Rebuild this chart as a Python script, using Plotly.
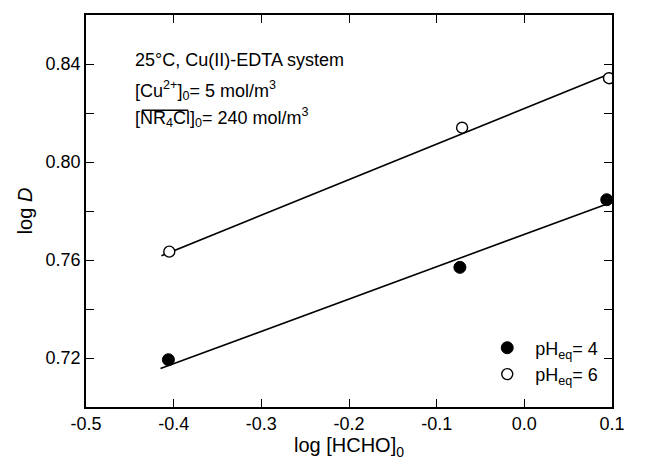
import plotly.graph_objects as go

# Data
log_hcho_ph4 = [-0.406, -0.0735, 0.094]
log_d_ph4 = [0.7193, 0.757, 0.7846]
log_hcho_ph6 = [-0.405, -0.071, 0.0966]
log_d_ph6 = [0.7634, 0.814, 0.8342]

# Fitted lines (endpoints)
fit_ph4_x = [-0.415, 0.092]
fit_ph4_y = [0.7157, 0.7826]
fit_ph6_x = [-0.414, 0.092]
fit_ph6_y = [0.7617, 0.8352]

x_ticks = [-0.5, -0.4, -0.3, -0.2, -0.1, 0.0, 0.1]
x_tick_labels = ["-0.5", "-0.4", "-0.3", "-0.2", "-0.1", "0.0", "0.1"]
y_ticks = [0.72, 0.76, 0.80, 0.84]
y_tick_labels = ["0.72", "0.76", "0.80", "0.84"]

FONT = "Liberation Sans, Arial, sans-serif"

fig = go.Figure()
fig.add_trace(go.Scatter(x=fit_ph4_x, y=fit_ph4_y, mode="lines",
                         line=dict(color="black", width=1.6), showlegend=False, hoverinfo="skip"))
fig.add_trace(go.Scatter(x=fit_ph6_x, y=fit_ph6_y, mode="lines",
                         line=dict(color="black", width=1.6), showlegend=False, hoverinfo="skip"))
fig.add_trace(go.Scatter(x=log_hcho_ph4, y=log_d_ph4, mode="markers",
                         marker=dict(symbol="circle", size=12, color="black",
                                     line=dict(color="black", width=1)),
                         name="pH<sub>eq</sub>= 4"))
fig.add_trace(go.Scatter(x=log_hcho_ph6, y=log_d_ph6, mode="markers",
                         marker=dict(symbol="circle", size=11, color="white",
                                     line=dict(color="black", width=1.4)),
                         name="pH<sub>eq</sub>= 6"))

axis_common = dict(showgrid=False, zeroline=False, showline=True, linecolor="black",
                   linewidth=1.5, mirror="ticks", ticks="inside", ticklen=8,
                   tickwidth=1.3, tickcolor="black",
                   tickfont=dict(family=FONT, size=18, color="black"))

fig.update_xaxes(range=[-0.5, 0.1], tickvals=x_ticks, ticktext=x_tick_labels,
                 title=dict(text="log [HCHO]<sub>0</sub>", font=dict(family=FONT, size=20, color="black"),
                            standoff=0),
                 **axis_common)
fig.update_yaxes(range=[0.70, 0.86], tickvals=y_ticks, ticktext=y_tick_labels,
                 minor=dict(tickvals=[0.74, 0.78, 0.82], ticks="inside", ticklen=8,
                            tickwidth=1.3, tickcolor="black"),
                 title=dict(text="log <i>D</i>", font=dict(family=FONT, size=20, color="black"),
                            standoff=8),
                 **axis_common)

ann_font = dict(family=FONT, size=18, color="black")
fig.add_annotation(xref="paper", yref="paper", x=0.0894, y=0.885, xanchor="left", yanchor="middle",
                   text="25°C, Cu(II)-EDTA system", showarrow=False, font=ann_font)
fig.add_annotation(xref="paper", yref="paper", x=0.0894, y=0.808, xanchor="left", yanchor="middle",
                   text="[Cu<sup>2+</sup>]<sub>0</sub>= 5 mol/m<sup>3</sup>", showarrow=False, font=ann_font)
fig.add_annotation(xref="paper", yref="paper", x=0.0894, y=0.738, xanchor="left", yanchor="middle",
                   text="[NR<sub>4</sub>Cl]<sub>0</sub>= 240 mol/m<sup>3</sup>", showarrow=False, font=ann_font)
fig.add_shape(type="line", xref="paper", yref="paper", x0=0.106, x1=0.1945, y0=0.757, y1=0.757,
              line=dict(color="black", width=1.3))

fig.update_layout(
    width=646, height=474,
    margin=dict(l=86, r=34, t=15, b=67),
    paper_bgcolor="white", plot_bgcolor="white",
    font=dict(family=FONT, color="black"),
    legend=dict(x=0.7476, y=0.1977, xanchor="left", yanchor="top",
                bgcolor="rgba(0,0,0,0)", font=dict(family=FONT, size=18, color="black"),
                itemwidth=46, tracegroupgap=0),
    showlegend=True,
)

fig.write_html("out.html")
